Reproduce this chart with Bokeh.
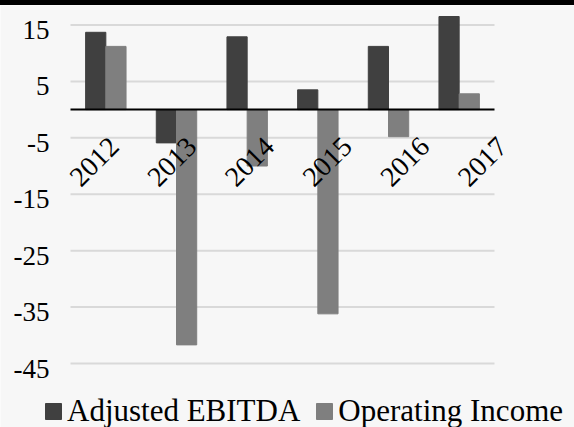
from bokeh.plotting import figure
from bokeh.models import ColumnDataSource, Range1d, Legend, LegendItem, Div
from bokeh.layouts import column
from bokeh.transform import dodge
from bokeh.core.properties import value
from bokeh.embed import file_html
from bokeh.resources import INLINE
import math

# Annual results (millions)
years = ["2012", "2013", "2014", "2015", "2016", "2017"]
adjusted_ebitda = [13.7, -5.9, 12.9, 3.5, 11.2, 16.5]
operating_income = [11.2, -41.7, -10.0, -36.2, -4.8, 2.8]
y_ticks = [15, 5, -5, -15, -25, -35, -45]
series_names = ["Adjusted EBITDA", "Operating Income"]

FONT = "Liberation Serif"
BG = "#f7f7f7"
DARK = "#404040"
MID = "#7f7f7f"
GRID = "#d9d9d9"

# canvas geometry (pixels)
W, H = 574, 422
AREA_LEFT, AREA_RIGHT = 70, 494     # horizontal extent of the category area
AREA_TOP_VALUE = 18.45              # value at the top edge of the canvas
AREA_BOTTOM_PX = 358                # pixel row of the lowest tick

n = len(years)
idx = list(range(n))
cat_lo, cat_hi = -0.5, n - 0.5
units_per_px = n / (AREA_RIGHT - AREA_LEFT)
x_start = cat_lo - AREA_LEFT * units_per_px
x_end = x_start + W * units_per_px
px_per_val = AREA_BOTTOM_PX / (AREA_TOP_VALUE - min(y_ticks))
y_start = AREA_TOP_VALUE - H / px_per_val

source = ColumnDataSource(data=dict(
    idx=idx, year=years,
    ebitda=adjusted_ebitda, oi=operating_income,
    base=[0] * n,
    # rotated year labels drift slightly to the right across the chart
    lab_dx=[2 + 7.0 * i for i in idx],
))
grid_src = ColumnDataSource(data=dict(
    tick=y_ticks,
    label=[str(t) for t in y_ticks],
    x0=[cat_lo] * len(y_ticks),
    x1=[cat_hi] * len(y_ticks),
))

p = figure(
    width=W, height=H,
    x_range=Range1d(x_start, x_end),
    y_range=Range1d(y_start, AREA_TOP_VALUE),
    x_axis_location=None, y_axis_location=None,
    output_backend="svg", toolbar_location=None,
    min_border=0,
)
p.background_fill_color = BG
p.border_fill_color = BG
p.outline_line_color = None
p.grid.visible = False

# horizontal gridlines
p.segment(x0="x0", x1="x1", y0="tick", y1="tick", source=grid_src,
          line_color=GRID, line_width=2)

bw = 0.286
r1 = p.vbar(x=dodge("idx", -bw / 2), top="ebitda", width=bw,
            source=source, fill_color=DARK, line_color=DARK)
r2 = p.vbar(x=dodge("idx", bw / 2), top="oi", width=bw,
            source=source, fill_color=MID, line_color=MID)

# zero baseline across the category area
p.segment(x0=[cat_lo], x1=[cat_hi], y0=[0], y1=[0], line_color="black", line_width=2)

# value labels on the left
p.text(x="x0", y="tick", text="label", source=grid_src,
       text_align="right", text_baseline="middle",
       x_offset=-21, y_offset=5,
       text_font=value(FONT), text_font_size="27px", text_color="black")

# rotated year labels just under the zero line
p.text(x="idx", y="base", text="year", source=source,
       angle=math.pi / 4, text_align="right", text_baseline="top",
       x_offset="lab_dx", y_offset=26,
       text_font=value(FONT), text_font_size="28px", text_color="black")

legend = Legend(
    items=[LegendItem(label=series_names[0], renderers=[r1]),
           LegendItem(label=series_names[1], renderers=[r2])],
    location=(43, -2), orientation="horizontal",
    background_fill_alpha=0, border_line_color=None,
    padding=0, margin=0, spacing=14,
    glyph_width=20, glyph_height=20, label_standoff=4,
    label_text_font=FONT, label_text_font_size="31px", label_text_color="black",
)
p.add_layout(legend, "center")

top_rule = Div(width=W, height=5, margin=0, styles={"background-color": "black"})
layout = column(top_rule, p, spacing=0)

open("out.html", "w").write(file_html(layout, INLINE))
